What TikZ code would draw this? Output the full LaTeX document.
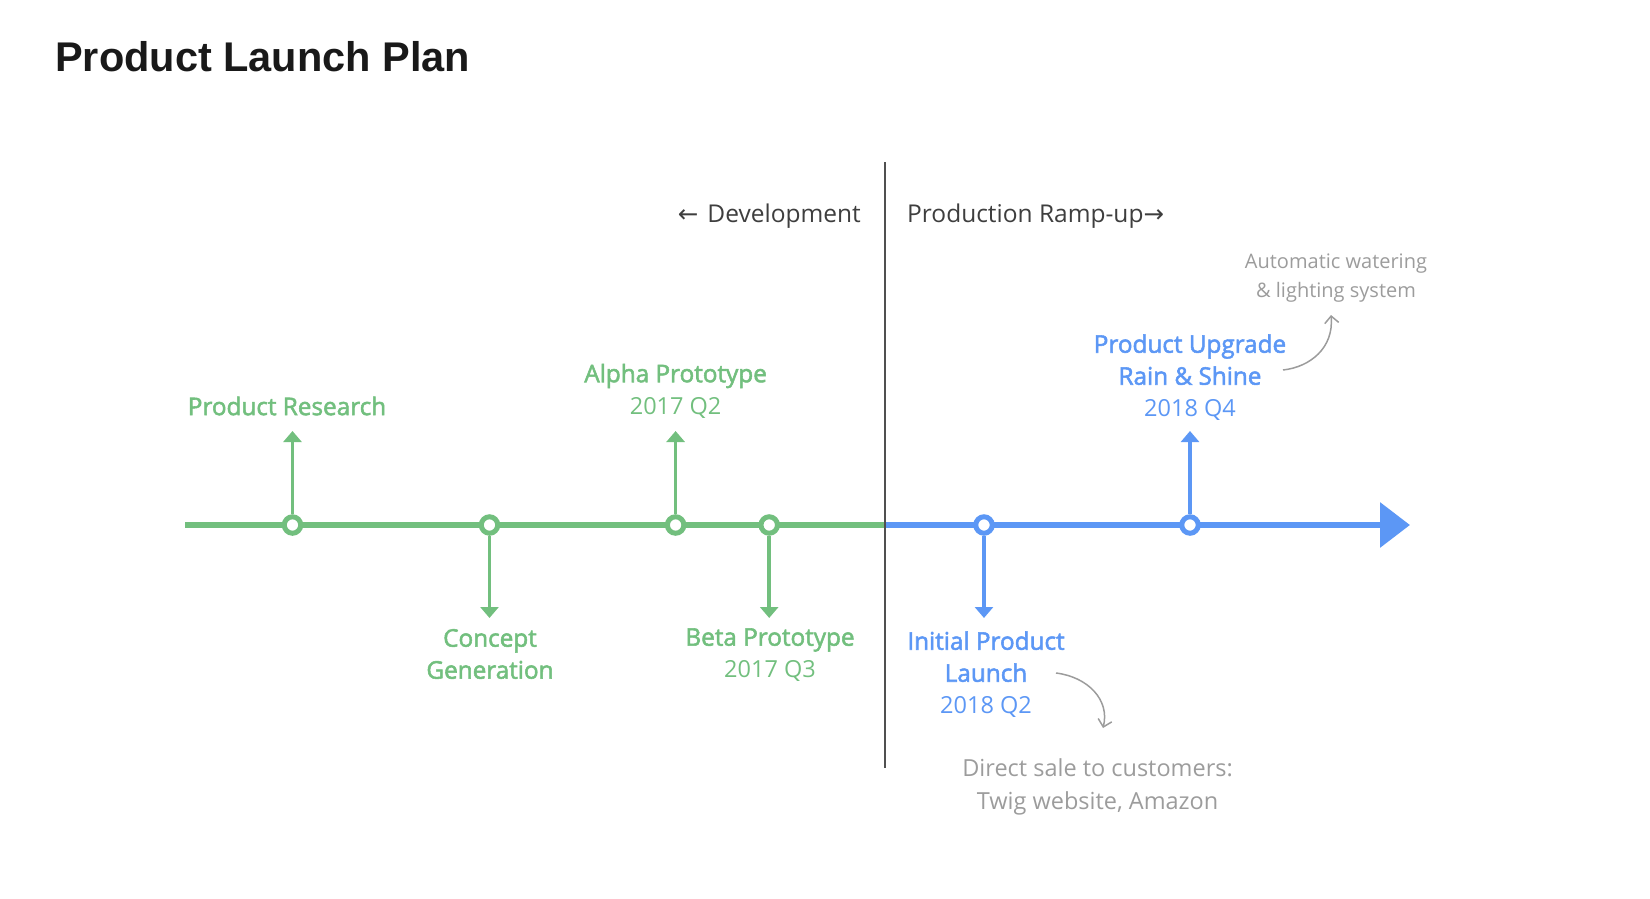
\documentclass[tikz,border=0pt]{standalone}
\usepackage{fontspec}
\setmainfont{Open Sans}
\newfontfamily\reg{Open Sans}
\newfontfamily\semi{Open Sans}[FakeBold=2.2]
\newfontfamily\titlefont{Liberation Sans}
\newfontfamily\arrowfont{DejaVu Sans}
\usetikzlibrary{arrows.meta}
\definecolor{tlgreen}{HTML}{72BF7E}
\definecolor{tlblue}{HTML}{5C97F5}
\definecolor{notegray}{HTML}{9C9C9C}
\definecolor{darktext}{HTML}{3E3E3E}
\definecolor{divgray}{HTML}{505050}
\begin{document}
\begin{tikzpicture}[x=1pt,y=-1pt,
  mainline/.style={line width=6.5pt},
  ring/.style={circle,draw=#1,fill=white,line width=5pt,minimum size=16.5pt,inner sep=0pt},
  stem/.style={line width=3.5pt,draw=#1,-{Triangle[length=11pt,width=18pt]}},
  lbl/.style={text=#1,align=center,inner sep=0pt,font=\semi\fontsize{24.3}{32}\selectfont},
  phase/.style={text=darktext,inner sep=0pt,font=\reg\fontsize{24.5}{30}\selectfont},
  note/.style={text=notegray,align=center,inner sep=0pt},
  notearrow/.style={draw=notegray,line width=1.5pt,-{Straight Barb[length=7pt,width=14pt]}}
]
\useasboundingbox (0,0) rectangle (1650,899);

% title
\node[anchor=base west,inner sep=0pt,text=black!90,font=\titlefont\bfseries\fontsize{41.5}{48}\selectfont] (title) at (55,72) {Product Launch Plan};

% main timeline
\coordinate (ls) at (185,525);
\coordinate (dv) at (885,525);
\coordinate (le) at (1410,525);
\draw[mainline,tlgreen] (ls) -- (dv);
\draw[mainline,tlblue,-{Triangle[length=30pt,width=44pt]}] (dv) -- (le);

% divider
\coordinate (dtop) at (885,162);
\coordinate (dbot) at (885,768);
\draw[divgray,line width=2pt] (dtop) -- (dbot);

% phase labels
\node[phase,anchor=east] (dev) at (861,216) {{\arrowfont\fontsize{24.5}{30}\selectfont ←}\hspace{9pt}Development};
\node[phase,anchor=west] (prod) at (907,216) {Production Ramp-up{\arrowfont\fontsize{24.5}{30}\selectfont →}};

% milestones
\node[ring=tlgreen] (c1) at (292.5,525) {};
\node[ring=tlgreen] (c2) at (489.5,525) {};
\node[ring=tlgreen] (c3) at (675.6,525) {};
\node[ring=tlgreen] (c4) at (769.2,525) {};
\node[ring=tlblue] (c5) at (984,525) {};
\node[ring=tlblue] (c6) at (1190,525) {};

\coordinate (t1) at (292.5,431);
\coordinate (t2) at (489.5,618);
\coordinate (t3) at (675.6,431);
\coordinate (t4) at (769.2,618);
\coordinate (t5) at (984,618);
\coordinate (t6) at (1190,431);
\draw[stem=tlgreen] (c1) -- (t1);
\draw[stem=tlgreen] (c2) -- (t2);
\draw[stem=tlgreen] (c3) -- (t3);
\draw[stem=tlgreen] (c4) -- (t4);
\draw[stem=tlblue] (c5) -- (t5);
\draw[stem=tlblue] (c6) -- (t6);

% labels
\node[lbl=tlgreen] (l1) at (287,406) {Product Research};
\node[lbl=tlgreen] (l2) at (490,654) {Concept\\Generation};
\node[lbl=tlgreen] (l3) at (675.6,391) {Alpha Prototype\\{\reg\fontsize{23.5}{32}\selectfont 2017 Q2}};
\node[lbl=tlgreen] (l4) at (770,655) {Beta Prototype\\{\reg\fontsize{23.5}{32}\selectfont 2017 Q3}};
\node[lbl=tlblue] (l5) at (986,674.5) {Initial Product\\Launch\\{\reg\fontsize{23.5}{32}\selectfont 2018 Q2}};
\node[lbl=tlblue] (l6) at (1190,377.5) {Product Upgrade\\Rain \& Shine\\{\reg\fontsize{23.5}{32}\selectfont 2018 Q4}};

% notes
\node[note,font=\reg\fontsize{20}{29}\selectfont] (n6) at (1336,278.5) {Automatic watering\\\& lighting system};
\node[note,font=\reg\fontsize{23.5}{33}\selectfont] (n5) at (1097.6,786.5) {Direct sale to customers:\\Twig website, Amazon};

\coordinate (a6s) at (1283,370);
\coordinate (a6e) at (1331,315);
\draw[notearrow] (a6s) .. controls (1310,367) and (1334,348) .. (a6e);
\coordinate (a5s) at (1056,673);
\coordinate (a5e) at (1103,728);
\draw[notearrow] (a5s) .. controls (1088,677) and (1110,700) .. (a5e);
\end{tikzpicture}
\end{document}
